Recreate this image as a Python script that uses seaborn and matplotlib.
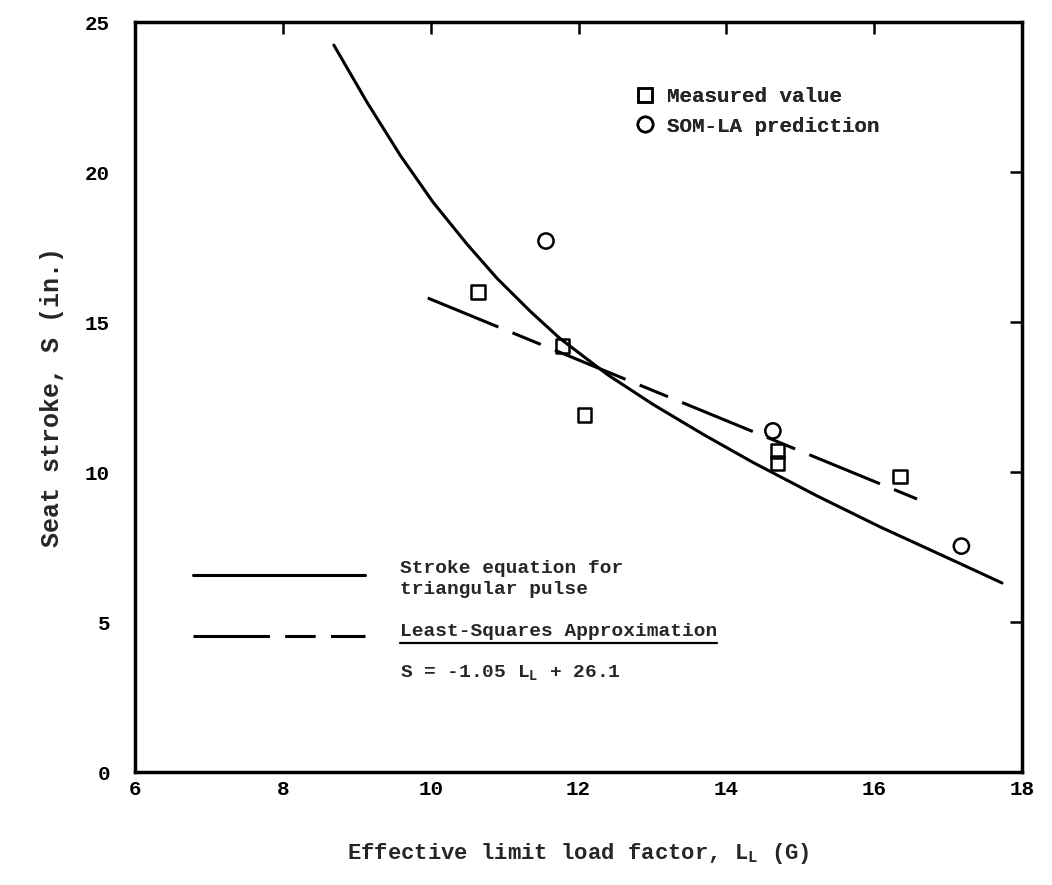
import numpy as np
import pandas as pd
import matplotlib
matplotlib.use("Agg")
import matplotlib.pyplot as plt
import seaborn as sns
from matplotlib.lines import Line2D

# ---- data ----
meas_x = [10.64, 11.78, 12.08, 14.69, 14.69, 16.35]
meas_y = [16.0, 14.2, 11.9, 10.7, 10.3, 9.85]

som_x = [11.56, 14.63, 17.18]
som_y = [17.7, 11.37, 7.53]

curve_x = [8.69, 9.14, 9.59, 10.03, 10.49, 10.90, 11.35, 11.75, 12.39, 13.01, 13.69, 14.36, 15.23, 16.08, 17.16, 17.73]
curve_y = [24.23, 22.32, 20.55, 19.0, 17.6, 16.45, 15.35, 14.45, 13.25, 12.25, 11.25, 10.32, 9.2, 8.17, 6.95, 6.3]

ls_x = [9.96, 16.58]
ls_y = [15.8, 9.1]

x_ticks = [6, 8, 10, 12, 14, 16, 18]
y_ticks = [0, 5, 10, 15, 20, 25]

# ---- style ----
sns.set_style("white")
plt.rcParams['font.family'] = ['Liberation Mono', 'DejaVu Sans']
plt.rcParams['font.weight'] = 'bold'
plt.rcParams['axes.labelweight'] = 'bold'
plt.rcParams['mathtext.fontset'] = 'custom'
plt.rcParams['mathtext.rm'] = 'Liberation Mono:bold'
plt.rcParams['mathtext.it'] = 'Liberation Mono:bold'
plt.rcParams['mathtext.bf'] = 'Liberation Mono:bold'

fig = plt.figure(figsize=(10.52, 8.85), dpi=100)
ax = fig.add_axes([135/1052, 1-772/885, (1022-135)/1052, (772-22)/885])

LW = 2.2
DASH = (0, (25, 5, 10, 5))
sns.lineplot(x=curve_x, y=curve_y, color='black', lw=LW, sort=False, estimator=None, ax=ax)
sns.lineplot(x=ls_x, y=ls_y, color='black', lw=LW, sort=False, estimator=None, ax=ax,
             linestyle=DASH)

sns.scatterplot(x=meas_x, y=meas_y, marker='s', s=90, ax=ax, color='black', zorder=3)
sq = ax.collections[-1]
sq.set_facecolor('none'); sq.set_edgecolor('black'); sq.set_linewidth(1.8)
sns.scatterplot(x=som_x, y=som_y, marker='o', s=120, ax=ax, color='black', zorder=3)
ci = ax.collections[-1]
ci.set_facecolor('none'); ci.set_edgecolor('black'); ci.set_linewidth(1.8)

ax.set_xlim(6, 18)
ax.set_ylim(0, 25)
ax.set_xticks(x_ticks)
ax.set_yticks(y_ticks)
ax.tick_params(axis='both', which='major', direction='in', length=8.5, width=1.8,
               top=True, right=True, labelsize=15, colors='black')
ax.tick_params(axis='y', pad=18)
ax.tick_params(axis='x', pad=6)
for s in ax.spines.values():
    s.set_linewidth(2.5)
    s.set_color('black')

ax.set_xlabel('Effective limit load factor, L$_\\mathrm{L}$ (G)', fontsize=16, labelpad=30,
              fontweight='bold')
ax.set_ylabel('Seat stroke, S (in.)', fontsize=18, labelpad=15, fontweight='bold')

# ---- upper legend (markers) ----
h_sq = Line2D([], [], marker='s', ls='none', mfc='none', mec='black', mew=1.8, ms=9.5)
h_ci = Line2D([], [], marker='o', ls='none', mfc='none', mec='black', mew=1.8, ms=11)
leg = ax.legend([h_sq, h_ci], ['Measured value', 'SOM-LA prediction'], loc='upper left',
                bbox_to_anchor=(0.5626, 0.913), frameon=False, fontsize=15, borderpad=0,
                handlelength=1.05, handletextpad=0.55, labelspacing=0.5, borderaxespad=0)
ax.add_artist(leg)

# ---- lower legend (lines) ----
tr = ax.transAxes
ax.add_line(Line2D([0.0654, 0.2593], [0.2627, 0.2627], transform=tr, color='black', lw=LW))
ax.add_line(Line2D([0.0654, 0.2593], [0.1813, 0.1813], transform=tr, color='black', lw=LW,
                   linestyle=DASH))
ax.text(0.2988, 0.2573, 'Stroke equation for\ntriangular pulse', transform=tr, fontsize=14,
        va='center', ha='left', linespacing=1.36)
t_ls = ax.text(0.2988, 0.188, 'Least-Squares Approximation', transform=tr, fontsize=14,
               va='center', ha='left')
ax.text(0.2988, 0.1333, 'S = -1.05 L$_\\mathrm{L}$ + 26.1', transform=tr, fontsize=14,
        va='center', ha='left')

fig.canvas.draw()
bb = t_ls.get_window_extent().transformed(ax.transAxes.inverted())
ax.add_line(Line2D([bb.x0, bb.x1], [bb.y0 - 0.004, bb.y0 - 0.004], transform=tr,
                   color='black', lw=1.6))

fig.savefig('out.png', dpi=100)
